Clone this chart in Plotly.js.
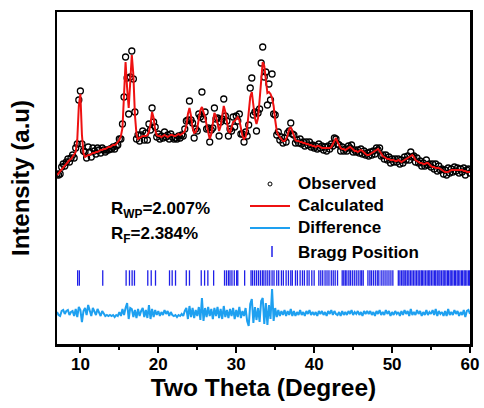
<!DOCTYPE html>
<html><head><meta charset="utf-8">
<script src="https://cdn.plot.ly/plotly-3.0.1.min.js"></script>
<style>html,body{margin:0;padding:0;background:#fff}#chart{width:484px;height:408px}</style>
</head><body><div id="chart"></div>
<script>
// 2θ grid: 7.0 … 60.0, step 0.2 (one row per degree: x.0, x.2, x.4, x.6, x.8)
const twoThetaStart = 7.0;
const twoThetaStep = 0.2;

// Calculated intensity (a.u.)
const calculated = [
  169,171,173,175,177, // 7
  179,180,182,184,185, // 8
  187,189,192,204,238, // 9
  250,209,191,187,188, // 10
  189,189,190,191,191, // 11
  192,192,193,194,194, // 12
  195,195,196,197,197, // 13
  198,199,199,200,202, // 14
  204,208,216,249,282, // 15
  256,236,262,289,269, // 16
  229,210,205,206,207, // 17
  208,208,208,209,212, // 18
  220,232,226,214,209, // 19
  208,208,207,208,209, // 20
  208,207,208,209,209, // 21
  208,208,209,210,209, // 22
  210,211,213,218,230, // 23
  236,228,216,211,212, // 24
  216,224,234,237,233, // 25
  227,219,210,205,210, // 26
  222,231,228,220,213, // 27
  218,231,238,232,220, // 28
  213,211,216,222,223, // 29
  225,227,224,215,208, // 30
  205,207,216,232,247, // 31
  252,239,226,220,226, // 32
  244,269,282,278,262, // 33
  251,252,250,246,238, // 34
  224,213,209,207,205, // 35
  203,203,205,209,215, // 36
  217,213,207,204,203, // 37
  203,202,202,201,201, // 38
  200,200,199,199,198, // 39
  198,197,198,198,197, // 40
  196,196,196,196,196, // 41
  196,197,200,204,206, // 42
  202,198,196,195,195, // 43
  194,195,196,197,196, // 44
  194,193,193,192,193, // 45
  194,193,191,190,189, // 46
  189,190,191,192,193, // 47
  194,195,193,190,188, // 48
  187,186,185,185,184, // 49
  184,184,183,183,184, // 50
  183,182,183,184,185, // 51
  186,187,188,189,187, // 52
  184,183,182,181,181, // 53
  180,180,181,181,179, // 54
  178,177,177,176,176, // 55
  176,175,174,173,172, // 56
  172,172,173,174,174, // 57
  174,174,174,174,174, // 58
  174,173,173,172,172, // 59
  172                  // 60
];

// Difference (observed − calculated)
const difference = [
  1,-2,-3,2,3,    // 7
  -1,2,3,-2,1,    // 8
  2,-3,4,-4,6,    // 9
  3,-9,2,5,-2,    // 10
  8,3,-3,5,2,     // 11
  -2,4,1,-3,2,    // 12
  -1,-3,-2,-3,-2, // 13
  -3,-2,-4,-2,-3, // 14
  1,-3,4,-2,5,    // 15
  10,-6,5,4,-4,   // 16
  3,-5,4,-3,2,    // 17
  5,-4,3,-5,8,    // 18
  -6,4,-4,3,-2,   // 19
  2,-3,1,-2,3,    // 20
  -1,2,-3,1,-2,   // 21
  -3,-2,-4,-2,-3, // 22
  -1,-3,2,5,-6,   // 23
  7,-4,5,-5,3,    // 24
  -3,6,-7,15,-8,  // 25
  5,-4,6,-3,4,    // 26
  -6,5,-3,6,-5,   // 27
  4,-6,7,-4,3,    // 28
  -5,4,-3,5,-6,   // 29
  3,-4,6,-5,2,    // 30
  -3,5,-8,-13,9,  // 31
  14,-10,6,-7,5,  // 32
  -9,12,15,-11,10,// 33
  -12,8,-6,24,-8, // 34
  5,-4,3,-3,2,    // 35
  -2,3,-3,2,-2,   // 36
  4,-3,2,-3,1,    // 37
  -2,3,-2,1,-3,   // 38
  2,-1,3,-2,1,    // 39
  -2,1,-3,2,-1,   // 40
  2,-2,1,-3,2,    // 41
  -1,3,-2,2,-1,   // 42
  -2,1,-3,2,-2,   // 43
  1,-2,2,-1,3,    // 44
  -2,1,-1,2,-2,   // 45
  1,-3,2,-1,2,    // 46
  -1,2,-2,1,-3,   // 47
  2,-1,3,-2,1,    // 48
  -2,3,-1,2,-3,   // 49
  1,-2,2,-1,1,    // 50
  -3,2,-2,3,-1,   // 51
  2,-3,4,-2,1,    // 52
  -2,3,-1,2,-3,   // 53
  1,-2,3,-2,1,    // 54
  -1,3,-2,4,-3,   // 55
  2,-1,1,-3,2,    // 56
  -3,4,-2,1,-2,   // 57
  3,-1,2,-3,1,    // 58
  -2,3,-4,2,3,    // 59
  -1              // 60
];

// Bragg reflection positions (2θ)
const braggPositions = [
  9.65, 9.87, 12.87, 15.87, 16.3, 16.64, 16.94, 18.65, 19.09, 19.64, 21.44, 21.78, 22.21,
  23.59, 24.0, 25.51, 25.94, 26.36, 27.1, 28.5, 28.75, 29.0, 29.2, 29.45, 29.75, 30.05, 30.2,
  31.08, 31.9, 32.1, 32.35, 32.6, 32.85, 33.1, 33.35, 33.55, 33.8, 34.05, 34.3, 34.6, 34.85,
  35.2, 35.45, 35.8, 36.05, 36.4, 36.7, 37.0, 37.2, 37.6, 37.85, 38.2, 38.5, 38.75, 39.1,
  39.35, 39.7, 40.0, 40.6, 40.85, 41.1, 41.4, 41.65, 41.9, 42.2, 42.45, 42.7, 43.0, 43.6,
  43.8, 44.0, 44.2, 44.45, 44.65, 44.9, 45.15, 45.4, 45.65, 45.9, 46.1, 46.3, 46.9, 47.15,
  47.35, 47.6, 47.85, 48.1, 48.3, 48.6, 48.85, 49.1, 49.35, 49.6, 49.85, 50.1, 50.8, 51.0,
  51.2, 51.4, 51.55, 51.75, 51.95, 52.15, 52.35, 52.55, 52.75, 52.95, 53.15, 53.35, 53.55,
  53.75, 53.9, 54.1, 54.3, 54.5, 54.7, 54.85, 55.05, 55.25, 55.45, 55.6, 55.8, 56.0, 56.15,
  56.35, 56.55, 56.7, 56.9, 57.1, 57.25, 57.45, 57.6, 57.8, 58.0, 58.15, 58.35, 58.5, 58.7,
  58.9, 59.05, 59.25, 59.4, 59.6, 59.8, 59.95
];

const tickValues = [10, 20, 30, 40, 50, 60];
const tickLabels = ['10', '20', '30', '40', '50', '60'];
const seriesNames = ['Observed', 'Calculated', 'Difference', 'Bragg Position'];
const rFactors = ['R<sub>WP</sub>=2.007%', 'R<sub>F</sub>=2.384%'];

// display offsets (vertical placement of the lower panels)
const differenceBaseline = 31;
const braggLevel = 66;

const twoTheta = calculated.map((_, i) => +(twoThetaStart + twoThetaStep * i).toFixed(1));
const observed = calculated.map((c, i) => c + difference[i]);
const diffShifted = difference.map(d => d + differenceBaseline);

const FONT = 'Arial, "Liberation Sans", Helvetica, sans-serif';
const RED = '#ee1111', CYAN = '#1ea0f0', BLUE = '#2020e8';

const traces = [
  { x: twoTheta, y: observed, name: seriesNames[0], type: 'scatter', mode: 'markers',
    marker: { symbol: 'circle-open', size: 6, color: '#000', line: { width: 1.3, color: '#000' } } },
  { x: twoTheta, y: calculated, name: seriesNames[1], type: 'scatter', mode: 'lines',
    line: { color: RED, width: 2 } },
  { x: twoTheta, y: diffShifted, name: seriesNames[2], type: 'scatter', mode: 'lines',
    line: { color: CYAN, width: 2 } },
  { x: braggPositions, y: braggPositions.map(() => braggLevel), name: seriesNames[3], type: 'scatter', mode: 'markers',
    marker: { symbol: 'line-ns-open', size: 11, color: BLUE, line: { width: 1.3, color: BLUE } } }
];

// legend drawn in paper coordinates (plot area 57..470 px wide, 12..344 px tall)
const px = v => (v - 57) / 413;
const py = v => (344 - v) / 332;
const legendTextX = px(296);
const legendRows = [183, 205, 227, 252];
const legendFont = { family: FONT, size: 17, color: '#000', weight: 'bold' };

const shapes = [
  { type: 'circle', xref: 'paper', yref: 'paper', x0: px(268), x1: px(272), y0: py(186), y1: py(182),
    line: { color: '#000', width: 1 } },
  { type: 'line', xref: 'paper', yref: 'paper', x0: px(250), x1: px(290), y0: py(206), y1: py(206),
    line: { color: RED, width: 2 } },
  { type: 'line', xref: 'paper', yref: 'paper', x0: px(250), x1: px(290), y0: py(228), y1: py(228),
    line: { color: CYAN, width: 2 } },
  { type: 'line', xref: 'paper', yref: 'paper', x0: px(272), x1: px(272), y0: py(246), y1: py(257),
    line: { color: BLUE, width: 1.5 } }
];

const annotations = seriesNames.map((n, i) => ({
  xref: 'paper', yref: 'paper', x: legendTextX, y: py(legendRows[i]), xanchor: 'left', yanchor: 'middle',
  showarrow: false, text: n, font: legendFont
})).concat([
  { xref: 'paper', yref: 'paper', x: 0.125, y: 0.404, xanchor: 'left', yanchor: 'middle', showarrow: false,
    text: rFactors[0], font: legendFont },
  { xref: 'paper', yref: 'paper', x: 0.125, y: 0.328, xanchor: 'left', yanchor: 'middle', showarrow: false,
    text: rFactors[1], font: legendFont }
]);

const layout = {
  width: 484, height: 408,
  margin: { l: 57, r: 14, t: 12, b: 64 },
  paper_bgcolor: '#fff', plot_bgcolor: '#fff',
  font: { family: FONT, color: '#000', size: 17, weight: 'bold' },
  showlegend: false,
  xaxis: {
    range: [7, 60], tickvals: tickValues, ticktext: tickLabels,
    ticks: 'outside', ticklen: 6, tickwidth: 2, tickcolor: '#000',
    minor: { dtick: 5, tick0: 5, ticks: 'outside', ticklen: 3, tickwidth: 2, tickcolor: '#000' },
    showline: true, linecolor: '#000', linewidth: 2.5, mirror: true,
    showgrid: false, zeroline: false,
    ticklabelstandoff: -3,
    tickfont: { family: FONT, size: 17, color: '#000', weight: 'bold' },
    title: { text: 'Two Theta (Degree)', font: { family: FONT, size: 24.5, color: '#000', weight: 'bold' }, standoff: 3 }
  },
  yaxis: {
    range: [0, 332], showticklabels: false, ticks: '',
    showline: true, linecolor: '#000', linewidth: 2.5, mirror: true,
    showgrid: false, zeroline: false,
    title: { text: 'Intensity (a.u)', font: { family: FONT, size: 24, color: '#000', weight: 'bold' }, standoff: 18 }
  },
  shapes: shapes,
  annotations: annotations
};

Plotly.newPlot('chart', traces, layout, { displayModeBar: false, staticPlot: true });
</script>
</body></html>
